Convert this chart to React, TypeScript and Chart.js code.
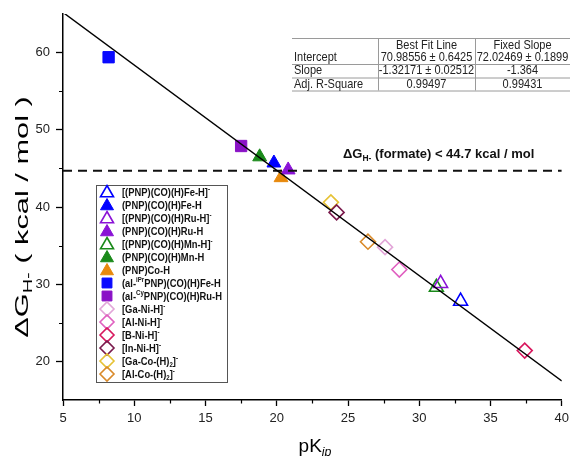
import React, { useEffect, useRef } from 'react';
import { Chart, registerables } from 'chart.js';

Chart.register(...registerables);

const FONT = '"Liberation Sans", Arial, sans-serif';

// ---------------- data ----------------
const seriesLabels = [
  '[(PNP)(CO)(H)Fe-H]^{-}',
  '(PNP)(CO)(H)Fe-H',
  '[(PNP)(CO)(H)Ru-H]^{-}',
  '(PNP)(CO)(H)Ru-H',
  '[(PNP)(CO)(H)Mn-H]^{-}',
  '(PNP)(CO)(H)Mn-H',
  '(PNP)Co-H',
  '(al-^{iPr}PNP)(CO)(H)Fe-H',
  '(al-^{Cy}PNP)(CO)(H)Ru-H',
  '[Ga-Ni-H]^{-}',
  '[Al-Ni-H]^{-}',
  '[B-Ni-H]^{-}',
  '[In-Ni-H]^{-}',
  '[Ga-Co-(H)_{2}]^{-}',
  '[Al-Co-(H)_{2}]^{-}',
];
const pKip = [32.9, 19.8, 31.5, 20.8, 31.2, 18.8, 20.3, 8.2, 17.5, 27.6, 28.6, 37.4, 24.2, 23.8, 26.4];
const dGH = [27.8, 45.7, 30.1, 44.8, 29.6, 46.5, 43.8, 59.4, 47.9, 34.8, 31.9, 21.4, 39.3, 40.6, 35.5];
const markerShapes = [
  'triangle', 'triangle', 'triangle', 'triangle', 'triangle', 'triangle', 'triangle',
  'rect', 'rect',
  'rectRot', 'rectRot', 'rectRot', 'rectRot', 'rectRot', 'rectRot',
];
const markerFilled = [false, true, false, true, false, true, true, true, true, false, false, false, false, false, false];
const markerColors = [
  '#0000ff', '#0000ff', '#8a12d6', '#8a12d6', '#1a8a1a', '#1a8a1a', '#e8890c',
  '#0a0aff', '#8a12c6',
  '#e2a6d8', '#e060c0', '#d8185e', '#7a1a4c', '#e6c235', '#d98a2a',
];

// fit parameters (table)
const tableHeader = ['', 'Best Fit Line', 'Fixed Slope'];
const tableRows = [
  ['Intercept', '70.98556 \u00b1 0.6425', '72.02469 \u00b1 0.1899'],
  ['Slope', '-1.32171 \u00b1 0.02512', '-1.364'],
  ['Adj. R-Square', '0.99497', '0.99431'],
];
const fixedIntercept = 72.02469;
const fixedSlope = -1.364;
const fitX = [5, 40];
const thresholdY = 44.7;
const thresholdLabel = '\u0394G_{H-} (formate) < 44.7 kcal / mol';

const xTicks = [5, 10, 15, 20, 25, 30, 35, 40];
const yTicks = [20, 30, 40, 50, 60];
const xMinor = [7.5, 12.5, 17.5, 22.5, 27.5, 32.5, 37.5];
const yMinor = [25, 35, 45, 55];
const xTitle = 'pK_i{ip}';
const yTitle = '\u0394G_{H-} ( kcal / mol )';

// ---------------- rich text helpers ----------------
type Seg = { t: string; mode: 'n' | 'sup' | 'sub'; italic?: boolean };
function parseRich(s: string): Seg[] {
  const out: Seg[] = [];
  const re = /(\^\{[^}]*\}|_i?\{[^}]*\})/g;
  let last = 0;
  let m: RegExpExecArray | null;
  while ((m = re.exec(s))) {
    if (m.index > last) out.push({ t: s.slice(last, m.index), mode: 'n' });
    const tok = m[0];
    if (tok[0] === '^') out.push({ t: tok.slice(2, -1), mode: 'sup' });
    else if (tok[1] === 'i') out.push({ t: tok.slice(3, -1), mode: 'sub', italic: true });
    else out.push({ t: tok.slice(2, -1), mode: 'sub' });
    last = m.index + tok.length;
  }
  if (last < s.length) out.push({ t: s.slice(last), mode: 'n' });
  return out;
}
function segFont(seg: Seg, size: number, weight: string) {
  const sz = seg.mode === 'n' ? size : size * 0.65;
  return `${seg.italic ? 'italic ' : ''}${weight} ${sz}px ${FONT}`;
}
function drawRich(
  ctx: CanvasRenderingContext2D, str: string, x: number, y: number,
  size: number, weight: string, color: string, align: 'left' | 'center',
) {
  const segs = parseRich(str);
  ctx.save();
  ctx.fillStyle = color;
  ctx.textBaseline = 'alphabetic';
  ctx.textAlign = 'left';
  let w = 0;
  for (const s of segs) { ctx.font = segFont(s, size, weight); w += ctx.measureText(s.t).width; }
  let cx = align === 'center' ? x - w / 2 : x;
  for (const s of segs) {
    ctx.font = segFont(s, size, weight);
    const dy = s.mode === 'sup' ? -size * 0.42 : s.mode === 'sub' ? size * 0.22 : 0;
    ctx.fillText(s.t, cx, y + dy);
    cx += ctx.measureText(s.t).width;
  }
  ctx.restore();
}

function drawMarker(ctx: CanvasRenderingContext2D, shape: string, x: number, y: number, r: number, color: string, filled: boolean) {
  ctx.save();
  ctx.beginPath();
  if (shape === 'triangle') {
    ctx.moveTo(x, y - r);
    ctx.lineTo(x + r * 0.866, y + r * 0.5);
    ctx.lineTo(x - r * 0.866, y + r * 0.5);
    ctx.closePath();
  } else if (shape === 'rect') {
    const h = r * Math.SQRT1_2;
    ctx.rect(x - h, y - h, 2 * h, 2 * h);
  } else {
    ctx.moveTo(x - r, y);
    ctx.lineTo(x, y - r);
    ctx.lineTo(x + r, y);
    ctx.lineTo(x, y + r);
    ctx.closePath();
  }
  if (filled) { ctx.fillStyle = color; ctx.fill(); }
  ctx.strokeStyle = color;
  ctx.lineWidth = filled ? 1 : 1.6;
  ctx.stroke();
  ctx.restore();
}

const decorPlugin = {
  id: 'decor',
  afterDraw(chart: any) {
    const ctx: CanvasRenderingContext2D = chart.ctx;
    const xs = chart.scales.x;
    const ys = chart.scales.y;
    const area = chart.chartArea;

    // minor ticks
    ctx.save();
    ctx.strokeStyle = '#000';
    ctx.lineWidth = 1.2;
    ctx.beginPath();
    for (const v of xMinor) {
      const px = Math.round(xs.getPixelForValue(v)) + 0.5;
      ctx.moveTo(px, area.bottom);
      ctx.lineTo(px, area.bottom + 3.5);
    }
    for (const v of yMinor) {
      const py = Math.round(ys.getPixelForValue(v)) + 0.5;
      ctx.moveTo(area.left, py);
      ctx.lineTo(area.left - 4, py);
    }
    ctx.stroke();
    ctx.restore();

    // threshold annotation
    drawRich(ctx, thresholdLabel, 343, 158, 13, 'bold', '#111', 'left');

    // table
    ctx.save();
    const tx0 = 292, tx1 = 378, tx2 = 475, tx3 = 570;
    const lines = [38, 64, 77.5, 90.5];
    ctx.strokeStyle = '#9a9a9a';
    ctx.lineWidth = 1;
    ctx.beginPath();
    for (const ly of lines) { ctx.moveTo(tx0, ly + 0.5); ctx.lineTo(tx3, ly + 0.5); }
    for (const lx of [tx1, tx2]) { ctx.moveTo(lx + 0.5, lines[0]); ctx.lineTo(lx + 0.5, lines[3]); }
    ctx.stroke();
    ctx.fillStyle = '#222';
    ctx.font = `11px ${FONT}`;
    ctx.textBaseline = 'middle';
    const rowYs = [46, 57.5, 71, 84.5];
    const colC = [(tx1 + tx2) / 2, (tx2 + tx3) / 2];
    const allRows = [tableHeader, ...tableRows];
    allRows.forEach((row, ri) => {
      ctx.save();
      ctx.translate(0, rowYs[ri]);
      ctx.scale(1, 1.08);
      ctx.textAlign = 'left';
      ctx.fillText(row[0], tx0 + 2, 0);
      ctx.textAlign = 'center';
      ctx.fillText(row[1], colC[0], 0);
      ctx.fillText(row[2], colC[1], 0);
      ctx.restore();
    });
    ctx.restore();

    // legend
    ctx.save();
    const lx = 96, ly = 185, lw = 131, lh = 197;
    ctx.fillStyle = '#fff';
    ctx.fillRect(lx, ly, lw, lh);
    ctx.strokeStyle = '#555';
    ctx.lineWidth = 1;
    ctx.strokeRect(lx + 0.5, ly + 0.5, lw, lh);
    ctx.restore();
    seriesLabels.forEach((lab, i) => {
      const cy = 192 + i * 13;
      const shape = markerShapes[i];
      const r = shape === 'triangle' ? 7.5 : shape === 'rect' ? 7 : 7;
      drawMarker(ctx, shape, 107, shape === 'triangle' ? cy + 1 : cy, r, markerColors[i], markerFilled[i]);
      ctx.save();
      ctx.translate(122, cy + 3.7);
      ctx.scale(1, 1.15);
      drawRich(ctx, lab, 0, 0, 9.4, 'bold', '#111', 'left');
      ctx.restore();
    });

    // axis titles
    drawRich(ctx, xTitle, 315, 452, 19, 'normal', '#000', 'center');
    ctx.save();
    ctx.translate(28, 217);
    ctx.rotate(-Math.PI / 2);
    ctx.scale(1.62, 1);
    drawRich(ctx, yTitle, 0, 0, 19, 'normal', '#000', 'center');
    ctx.restore();
  },
};

export default function App() {
  const ref = useRef<HTMLCanvasElement | null>(null);
  useEffect(() => {
    if (!ref.current) return;
    const markerDatasets = seriesLabels.map((lab, i) => {
      const shape = markerShapes[i];
      return {
        type: 'scatter' as const,
        label: lab,
        data: [{ x: pKip[i], y: dGH[i] }],
        pointStyle: shape,
        pointRadius: shape === 'triangle' ? 8 : shape === 'rect' ? 8 : 7.5,
        borderColor: markerColors[i],
        backgroundColor: markerFilled[i] ? markerColors[i] : 'rgba(0,0,0,0)',
        borderWidth: markerFilled[i] ? 1 : 1.6,
        order: 2,
      };
    });
    const chart = new Chart(ref.current, {
      type: 'scatter',
      data: {
        datasets: [
          {
            type: 'line',
            label: 'Fixed slope fit',
            data: fitX.map((x) => ({ x, y: fixedIntercept + fixedSlope * x })),
            borderColor: '#000',
            borderWidth: 1.4,
            pointRadius: 0,
            fill: false,
            order: 0,
          },
          {
            type: 'line',
            label: 'formate',
            data: fitX.map((x) => ({ x, y: thresholdY })),
            borderColor: '#111',
            borderWidth: 2,
            borderDash: [9, 6],
            pointRadius: 0,
            fill: false,
            order: 1,
          },
          ...markerDatasets,
        ] as any,
      },
      options: {
        responsive: false,
        animation: false,
        devicePixelRatio: 1,
        layout: { padding: { top: 14, right: 8, left: 0, bottom: 0 } },
        plugins: { legend: { display: false }, tooltip: { enabled: false } },
        scales: {
          x: {
            type: 'linear',
            min: 5,
            max: 40,
            afterBuildTicks: (s: any) => { s.ticks = xTicks.map((v) => ({ value: v })); },
            afterFit: (s: any) => { s.height = 56; },
            grid: { display: true, drawOnChartArea: false, drawTicks: true, tickLength: 6, tickColor: '#000', tickWidth: 1.3, color: '#000' },
            border: { display: true, color: '#000', width: 1.5 },
            ticks: { color: '#222', font: { family: FONT, size: 13 }, padding: 5, maxRotation: 0, autoSkip: false },
            title: { display: false },
          },
          y: {
            type: 'linear',
            min: 15,
            max: 65,
            afterBuildTicks: (s: any) => { s.ticks = yTicks.map((v) => ({ value: v })); },
            afterFit: (s: any) => { s.width = 63; },
            grid: { display: true, drawOnChartArea: false, drawTicks: true, tickLength: 7, tickColor: '#000', tickWidth: 1.3, color: '#000' },
            border: { display: true, color: '#000', width: 1.5 },
            ticks: { color: '#222', font: { family: FONT, size: 13 }, padding: 6, autoSkip: false },
            title: { display: false },
          },
        },
      } as any,
      plugins: [decorPlugin],
    });
    return () => chart.destroy();
  }, []);
  return (
    <div style={{ position: 'absolute', left: 0, top: 0, width: 574, height: 456, background: '#fff' }}>
      <canvas ref={ref} width={574} height={456} style={{ display: 'block' }} />
    </div>
  );
}
